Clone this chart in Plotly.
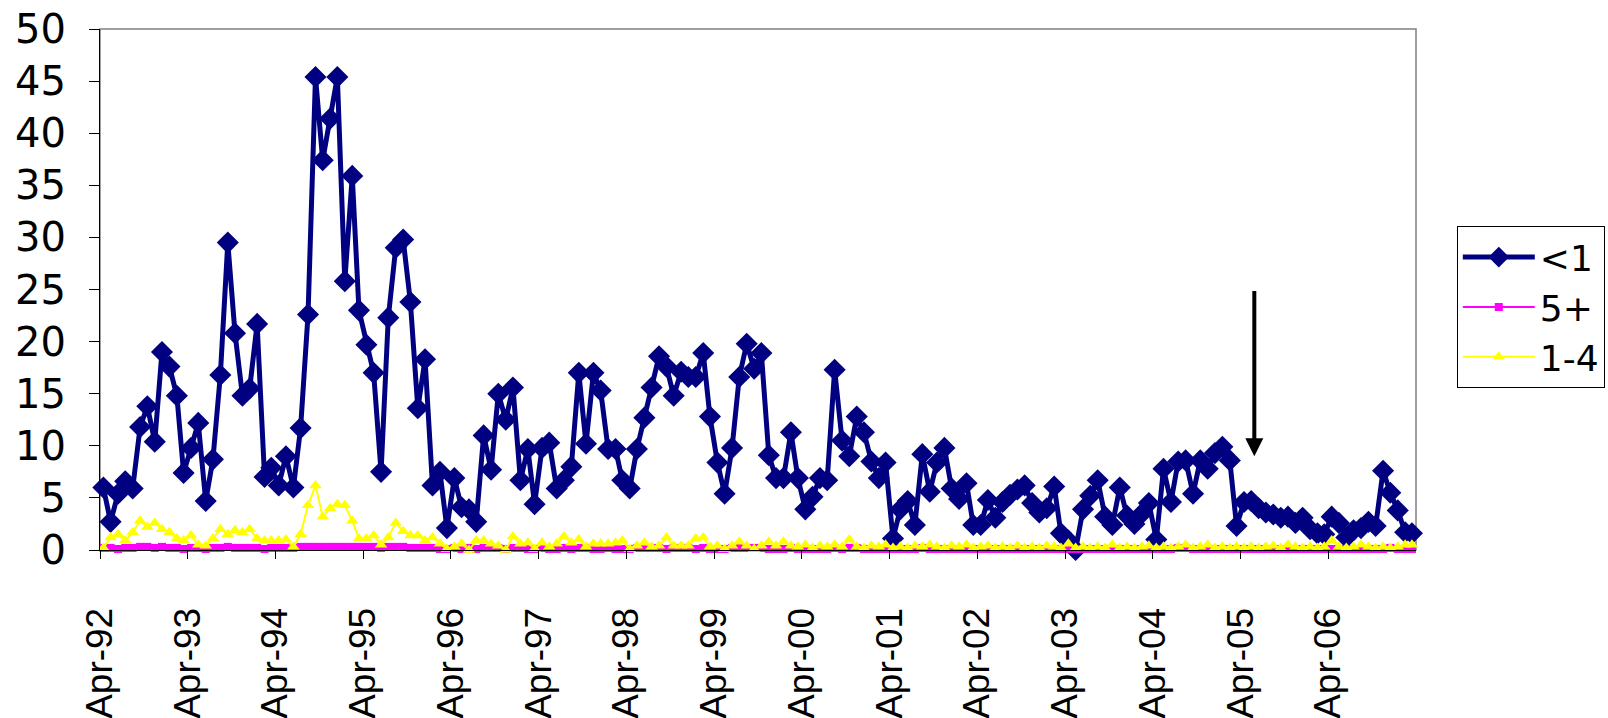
import plotly.graph_objects as go

# ---- data (monthly, Apr-92 .. Mar-07) ----
n_months = 180
months = []
for i in range(n_months):
    m = 3 + i  # April 1992 = month index 3 (0-based)
    months.append(f"{1992 + m // 12}-{m % 12 + 1:02d}-15")

under1 = [
    6.0, 2.7, 5.4, 6.6, 5.9, 11.8, 13.8, 10.4, 19.0, 17.6, 14.8, 7.4, 9.8, 12.2, 4.7,
    8.7, 16.8, 29.5, 20.8, 14.8, 15.5, 21.7, 7.0, 7.9, 6.2, 9.0, 6.0, 11.7, 22.6, 45.4,
    37.4, 41.4, 45.4, 25.8, 35.9, 23.0, 19.7, 17.0, 7.5, 22.3, 29.0, 29.8, 23.8, 13.6, 18.3,
    6.2, 7.5, 2.1, 6.9, 4.1, 3.9, 2.7, 11.0, 7.7, 15.0, 12.5, 15.6, 6.7, 9.7, 4.4,
    9.8, 10.3, 5.9, 6.7, 8.0, 17.0, 10.2, 17.0, 15.3, 9.7, 9.7, 6.7, 5.9, 9.7, 12.7,
    15.6, 18.6, 17.6, 14.8, 17.1, 16.6, 16.6, 18.9, 12.8, 8.4, 5.4, 9.8, 16.6, 19.8, 17.4,
    18.9, 9.1, 6.9, 6.9, 11.3, 6.9, 3.9, 5.1, 6.9, 6.7, 17.3, 10.5, 9.0, 12.8, 11.3,
    8.5, 6.9, 8.4, 1.1, 3.9, 4.7, 2.4, 9.2, 5.6, 8.4, 9.8, 5.9, 4.9, 6.4, 2.4,
    2.4, 4.8, 3.1, 4.6, 5.3, 5.8, 6.2, 4.5, 3.6, 4.0, 6.1, 1.6, 0.9, 0.0, 3.9,
    5.2, 6.7, 3.2, 2.4, 6.0, 3.3, 2.5, 3.5, 4.5, 1.0, 7.8, 4.6, 8.5, 8.6, 5.4,
    8.6, 7.8, 9.3, 9.9, 8.6, 2.3, 4.6, 4.7, 4.0, 3.6, 3.4, 3.1, 3.2, 2.6, 3.1,
    2.0, 1.6, 1.5, 3.2, 2.6, 1.2, 1.9, 2.1, 2.7, 2.3, 7.6, 5.5, 3.8, 1.7, 1.6,
]

plus5 = [
    0.2, 0.2, 0.1, 0.2, 0.2, 0.3, 0.3, 0.2, 0.3, 0.2, 0.2, 0.1, 0.2, 0.2, 0.1,
    0.2, 0.2, 0.3, 0.2, 0.2, 0.2, 0.2, 0.1, 0.2, 0.2, 0.2, 0.2, 0.3, 0.3, 0.3,
    0.3, 0.3, 0.3, 0.3, 0.3, 0.3, 0.3, 0.3, 0.2, 0.3, 0.3, 0.3, 0.2, 0.2, 0.2,
    0.2, 0.1, 0.1, 0.2, 0.1, 0.2, 0.1, 0.2, 0.2, 0.2, 0.1, 0.2, 0.2, 0.1, 0.1,
    0.2, 0.1, 0.1, 0.2, 0.1, 0.2, 0.2, 0.1, 0.1, 0.2, 0.1, 0.1, 0.1, 0.2, 0.2,
    0.2, 0.2, 0.1, 0.2, 0.2, 0.2, 0.1, 0.2, 0.1, 0.1, 0.1, 0.2, 0.2, 0.2, 0.2,
    0.2, 0.1, 0.1, 0.1, 0.2, 0.1, 0.1, 0.1, 0.1, 0.1, 0.2, 0.1, 0.2, 0.2, 0.1,
    0.1, 0.1, 0.1, 0.1, 0.1, 0.1, 0.1, 0.2, 0.1, 0.1, 0.1, 0.1, 0.1, 0.1, 0.1,
    0.1, 0.1, 0.1, 0.1, 0.1, 0.1, 0.1, 0.1, 0.1, 0.1, 0.1, 0.1, 0.1, 0.1, 0.1,
    0.1, 0.1, 0.1, 0.1, 0.1, 0.1, 0.1, 0.1, 0.1, 0.1, 0.1, 0.1, 0.2, 0.2, 0.1,
    0.1, 0.1, 0.1, 0.1, 0.1, 0.1, 0.1, 0.1, 0.1, 0.1, 0.1, 0.1, 0.1, 0.1, 0.1,
    0.1, 0.1, 0.1, 0.1, 0.1, 0.1, 0.1, 0.1, 0.1, 0.1, 0.1, 0.2, 0.1, 0.1, 0.1,
]

one_to_four = [
    0.2, 1.2, 1.5, 0.9, 1.7, 2.8, 2.2, 2.6, 2.0, 1.7, 1.1, 0.9, 1.4, 0.5, 0.4,
    1.1, 2.0, 1.5, 1.9, 1.7, 2.0, 1.1, 0.9, 0.9, 0.9, 1.0, 0.3, 1.5, 4.3, 6.2,
    3.2, 4.0, 4.4, 4.3, 2.8, 1.1, 1.1, 1.4, 0.5, 1.2, 2.6, 1.8, 1.4, 1.4, 0.9,
    1.2, 0.6, 0.1, 0.3, 0.6, 0.0, 0.9, 0.9, 0.6, 0.4, 0.0, 1.3, 0.6, 0.7, 0.1,
    0.7, 0.3, 0.6, 1.3, 0.7, 1.0, 0.3, 0.6, 0.6, 0.6, 0.7, 0.9, 0.1, 0.4, 0.7,
    0.3, 0.4, 1.2, 0.4, 0.4, 0.4, 1.1, 1.2, 0.3, 0.4, 0.1, 0.4, 0.8, 0.4, 0.1,
    0.4, 0.8, 0.4, 0.8, 0.4, 0.3, 0.5, 0.2, 0.4, 0.3, 0.5, 0.3, 1.0, 0.3, 0.2,
    0.4, 0.3, 0.5, 0.2, 0.3, 0.2, 0.4, 0.3, 0.5, 0.3, 0.2, 0.4, 0.3, 0.5, 0.2,
    0.3, 0.4, 0.2, 0.3, 0.2, 0.4, 0.2, 0.3, 0.2, 0.4, 0.3, 0.2, 0.6, 0.2, 0.3,
    0.2, 0.3, 0.2, 0.5, 0.2, 0.3, 0.2, 0.3, 0.4, 0.2, 0.3, 0.2, 0.3, 0.5, 0.2,
    0.3, 0.5, 0.2, 0.3, 0.2, 0.3, 0.2, 0.3, 0.2, 0.3, 0.4, 0.2, 0.5, 0.3, 0.2,
    0.3, 0.2, 0.3, 0.9, 0.3, 0.2, 0.3, 0.5, 0.3, 0.2, 0.3, 0.2, 0.3, 0.5, 0.5,
]

tick_dates = [f"{y}-04-01" for y in range(1992, 2007)]
tick_text = ["Apr-92", "Apr-93", "Apr-94", "Apr-95", "Apr-96", "Apr-97", "Apr-98",
             "Apr-99", "Apr-00", "Apr-01", "Apr-02", "Apr-03", "Apr-04", "Apr-05", "Apr-06"]

arrow_date = "2005-05-28"
arrow_from = 25
arrow_to = 9

WIDE = "'DejaVu Sans', Arial, sans-serif"
ARIAL = "Arial, 'Liberation Sans', sans-serif"

fig = go.Figure()
fig.add_trace(go.Scatter(
    x=months, y=under1, name="<1", mode="lines+markers",
    line=dict(color="#000080", width=5),
    marker=dict(symbol="diamond", size=17, color="#000080"),
    cliponaxis=False,
))
fig.add_trace(go.Scatter(
    x=months, y=plus5, name="5+", mode="lines+markers",
    line=dict(color="#FF00FF", width=2),
    marker=dict(symbol="square", size=8, color="#FF00FF"),
    cliponaxis=False,
))
fig.add_trace(go.Scatter(
    x=months, y=one_to_four, name="1-4", mode="lines+markers",
    line=dict(color="#FFFF00", width=2),
    marker=dict(symbol="triangle-up", size=11, color="#FFFF00"),
    cliponaxis=False,
))

fig.add_annotation(
    x=arrow_date, y=arrow_to, ax=arrow_date, ay=arrow_from,
    xref="x", yref="y", axref="x", ayref="y",
    showarrow=True, arrowhead=2, arrowsize=0.9, arrowwidth=4,
    arrowcolor="black", text="",
)

fig.add_shape(type="rect", xref="paper", yref="paper", x0=0, y0=0, x1=1, y1=1,
              line=dict(color="#808080", width=1.5), layer="below")

fig.update_layout(
    width=1608, height=718,
    margin=dict(l=100, r=192, t=29, b=168, autoexpand=False),
    paper_bgcolor="white", plot_bgcolor="white",
    font=dict(family=WIDE, color="black", size=36),
    showlegend=True,
    legend=dict(
        x=1.031, xanchor="left", y=0.466, yanchor="middle",
        bordercolor="black", borderwidth=1, bgcolor="white",
        font=dict(size=36, family=WIDE), tracegroupgap=0,
        itemwidth=72,
    ),
    xaxis=dict(
        type="date", range=["1992-04-01", "2007-04-01"],
        tickmode="array", tickvals=tick_dates, ticktext=tick_text,
        tickangle=-90, ticks="outside", ticklen=8, tickcolor="black",
        showline=True, linecolor="black", linewidth=1,
        showgrid=False, zeroline=False, automargin=False,
        tickfont=dict(size=37, family=ARIAL),
        ticklabelstandoff=34,
    ),
    yaxis=dict(
        range=[0, 50], dtick=5, tick0=0,
        ticks="outside", ticklen=10, tickcolor="black",
        showline=True, linecolor="black", linewidth=1,
        showgrid=False, zeroline=False, automargin=False,
        tickfont=dict(size=40, family=WIDE),
        ticklabelstandoff=15,
    ),
)

fig.write_html("out.html", post_script="document.body.style.margin='0';",
               config={"displayModeBar": False})
